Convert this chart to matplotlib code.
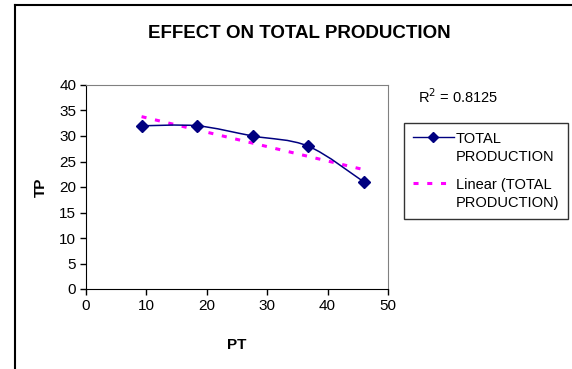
import matplotlib
matplotlib.use("Agg")
import matplotlib.pyplot as plt
import numpy as np
from matplotlib.lines import Line2D
from matplotlib.path import Path
from matplotlib.patches import PathPatch

plt.rcParams["font.family"] = ["Liberation Sans", "DejaVu Sans"]

# data
pt = [9.2, 18.4, 27.6, 36.8, 46.0]
tp = [32, 32, 30, 28, 21]
x_ticks = [0, 10, 20, 30, 40, 50]
y_ticks = [0, 5, 10, 15, 20, 25, 30, 35, 40]

NAVY = "#000080"
MAGENTA = "#FF00FF"
TREND_DASH = (0, (1.65, 2.85))


def smooth_path(x, y):
    # Excel style smoothed line: cubic bezier through each point
    pts = np.column_stack([x, y]).astype(float)
    n = len(pts)
    verts = [pts[0]]
    codes = [Path.MOVETO]
    for i in range(n - 1):
        p0 = pts[max(i - 1, 0)]
        p1 = pts[i]
        p2 = pts[i + 1]
        p3 = pts[min(i + 2, n - 1)]
        c1 = p1 + (p2 - p0) / 6.0
        c2 = p2 - (p3 - p1) / 6.0
        verts += [c1, c2, p2]
        codes += [Path.CURVE4] * 3
    return Path(verts, codes)


fig = plt.figure(figsize=(5.72, 3.69), dpi=100)
ax = fig.add_axes([86 / 572, 80 / 369, 302 / 572, 204 / 369])

# linear trend
slope, intercept = np.polyfit(pt, tp, 1)
fit = np.polyval([slope, intercept], pt)
r2 = 1 - np.sum((np.array(tp) - fit) ** 2) / np.sum((np.array(tp) - np.mean(tp)) ** 2)

ax.plot([pt[0], pt[-1]], np.polyval([slope, intercept], [pt[0], pt[-1]]),
        color=MAGENTA, lw=2.2, linestyle=TREND_DASH, zorder=2)

ax.add_patch(PathPatch(smooth_path(pt, tp), facecolor="none", edgecolor=NAVY,
                       lw=1.1, zorder=3))
ax.plot(pt, tp, linestyle="none", marker="D", color=NAVY, markersize=6, zorder=4)

ax.set_xlim(0, 50)
ax.set_ylim(0, 40)
ax.set_xticks(x_ticks)
ax.set_yticks(y_ticks)
ax.tick_params(direction="out", length=4, width=1, labelsize=11, pad=3)
for side in ["top", "right"]:
    ax.spines[side].set_color("#808080")
for side in ["left", "bottom"]:
    ax.spines[side].set_color("black")

ax.set_xlabel("PT", fontsize=11, fontweight="bold", labelpad=18)
ax.set_ylabel("TP", fontsize=11, fontweight="bold", labelpad=8)

fig.text(299 / 572, 1 - 33 / 369, "EFFECT ON TOTAL PRODUCTION",
         ha="center", va="center", fontsize=13.5, fontweight="bold")
fig.text(418 / 572, 1 - 97 / 369, "R$^2$ = %.4f" % r2,
         ha="left", va="center", fontsize=10.5)

handles = [
    Line2D([], [], color=NAVY, lw=1, marker="D", markersize=5),
    Line2D([], [], color=MAGENTA, lw=2.2, linestyle=TREND_DASH),
]
labels = ["TOTAL\nPRODUCTION", "Linear (TOTAL\nPRODUCTION)"]
leg = fig.legend(handles, labels, loc="upper left",
                 bbox_to_anchor=(404 / 572, 1 - 123 / 369), fontsize=10.5,
                 frameon=True, fancybox=False, edgecolor="black",
                 handlelength=2.8, handletextpad=0.15, borderpad=0.6,
                 labelspacing=1.0, borderaxespad=0)
leg.get_frame().set_linewidth(1)
for t in leg.get_texts():
    t.set_linespacing(1.35)
# put each handle beside the first line of its label
for col in leg._legend_handle_box.get_children():
    for row in col.get_children():
        row.align = "top"

# outer chart border (top and left only are visible)
fig.add_artist(Line2D([15 / 572, 15 / 572], [0, 1 - 5 / 369], color="black", lw=1.5))
fig.add_artist(Line2D([15 / 572, 1], [1 - 5 / 369, 1 - 5 / 369], color="black", lw=1.5))

fig.savefig("out.png", dpi=100)
